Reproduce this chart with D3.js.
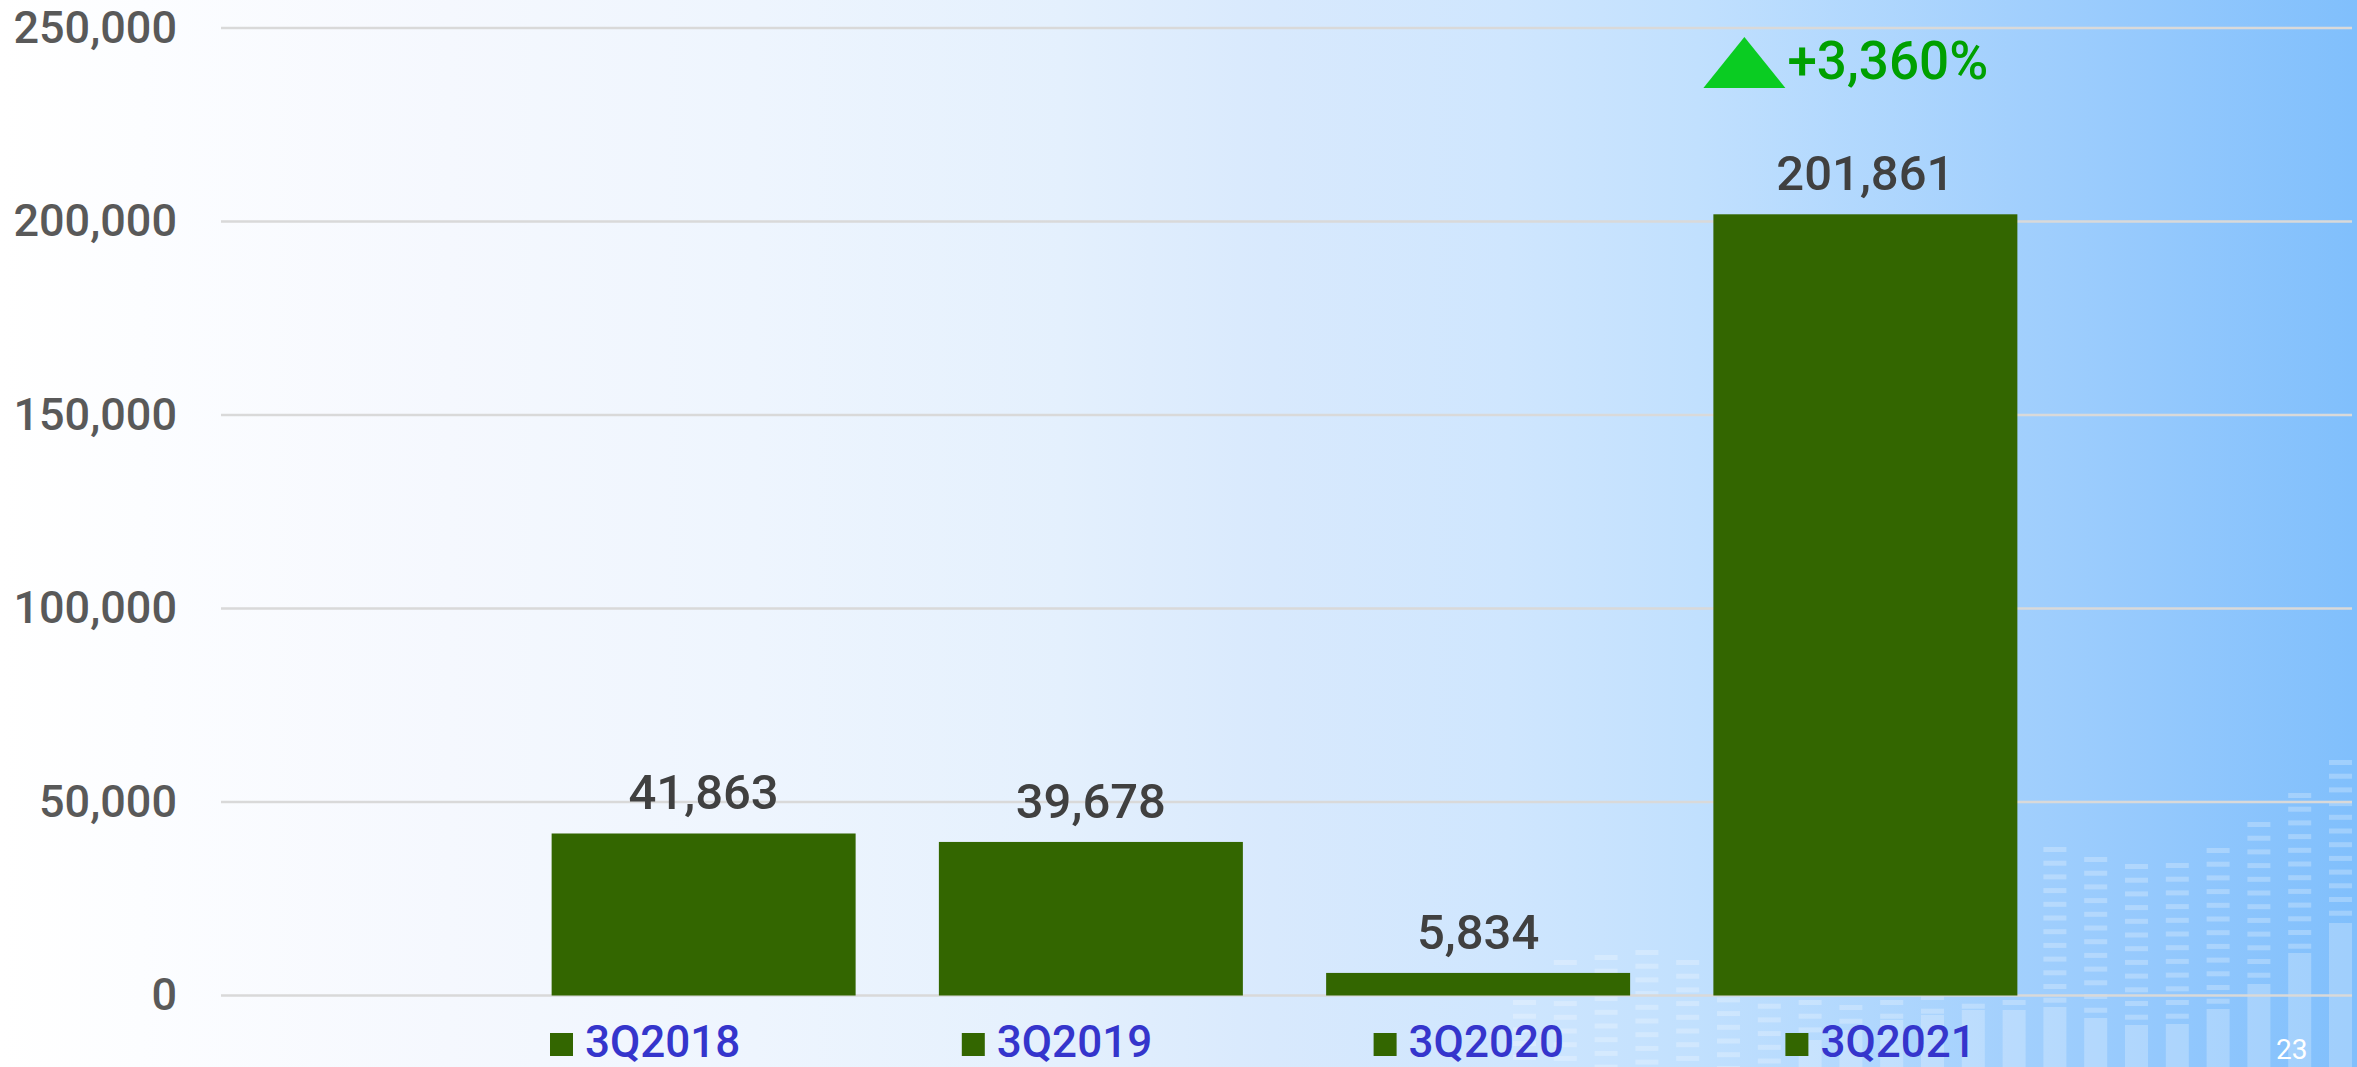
<!DOCTYPE html>
<html>
<head>
<meta charset="utf-8">
<script src="https://cdn.jsdelivr.net/npm/d3@7"></script>
<style>
    html, body { margin: 0; padding: 0; overflow: hidden; }
    svg { display: block; }
</style>
</head>
<body>
<div id="chart"></div>
<script>
// chart data
let quarters = ["3Q2018", "3Q2019", "3Q2020", "3Q2021"];
let counts = [41863, 39678, 5834, 201861];
let yTicks = [0, 50000, 100000, 150000, 200000, 250000];
let growthLabel = "+3,360%";
let pageNumber = "23";

// background equalizer decoration (top of dashes, top of solid part)
let decoTops = [1000, 960, 955, 950, 960, 970, 990, 1000, 1005, 1000, 995, 990, 1000, 847, 857, 864, 863, 848, 822, 793, 760];
let decoSolid = [1067, 1067, 1067, 1067, 1067, 1067, 1067, 1040, 1030, 1020, 1015, 1010, 1010, 1007, 1018, 1025, 1024, 1009, 984, 953, 923];

function drawChart(parentElem) {
    let width = 2357, height = 1067;

    let svg = d3.select(parentElem)
        .append("svg")
        .attr("width", width)
        .attr("height", height);

    // slide background gradient
    let grad = svg.append("defs").append("linearGradient")
        .attr("id", "bg")
        .attr("x1", "0%").attr("x2", "100%")
        .attr("y1", "0%").attr("y2", "0%");
    [[0, "#ffffff"], [0.06, "#fcfdff"], [0.19, "#f5f8fe"], [0.32, "#eef5fe"],
     [0.45, "#e4f0fd"], [0.54, "#d8e9fd"], [0.64, "#cfe6fe"], [0.72, "#c1e0fe"],
     [0.86, "#a1cffd"], [0.92, "#93c8fd"], [1, "#80bffc"]].forEach(function(s) {
        grad.append("stop").attr("offset", s[0]).attr("stop-color", s[1]);
    });
    svg.append("rect")
        .attr("width", width)
        .attr("height", height)
        .attr("fill", "url(#bg)");

    // decoration columns
    let deco = svg.append("g").attr("fill", "#ffffff").attr("opacity", 0.25);
    decoTops.forEach(function(top, i) {
        let x = 1513 + i * 40.8;
        for (let y = top; y < decoSolid[i]; y += 13.7) {
            deco.append("rect").attr("x", x).attr("y", y).attr("width", 23).attr("height", 5);
        }
        deco.append("rect").attr("x", x).attr("y", decoSolid[i]).attr("width", 23).attr("height", height - decoSolid[i]);
    });

    let x = d3.scaleBand()
        .domain(quarters)
        .range([510, 2059])
        .paddingInner(0.215)
        .paddingOuter(0.1075);

    let y = d3.scaleLinear()
        .domain([0, 250000])
        .range([995.5, 28]);

    // gridlines
    svg.append("g")
        .selectAll("line")
        .data(yTicks)
        .enter()
        .append("line")
        .attr("x1", 221)
        .attr("x2", 2352)
        .attr("y1", function(d) { return y(d); })
        .attr("y2", function(d) { return y(d); })
        .attr("stroke", "#d9d9d9")
        .attr("stroke-width", 2.5);

    // y axis labels
    let yAxis = d3.axisLeft(y)
        .tickValues(yTicks)
        .tickFormat(d3.format(","))
        .tickSize(0)
        .tickPadding(0);
    svg.append("g")
        .attr("transform", "translate(177,0)")
        .call(yAxis)
        .call(function(g) { g.select(".domain").remove(); })
        .selectAll("text")
        .attr("font-family", "Roboto, sans-serif")
        .attr("font-weight", 500)
        .attr("font-size", 45)
        .attr("fill", "#595959");

    // bars
    svg.append("g")
        .selectAll("rect")
        .data(counts)
        .enter()
        .append("rect")
        .attr("x", function(d, i) { return x(quarters[i]); })
        .attr("y", function(d) { return y(d); })
        .attr("width", x.bandwidth())
        .attr("height", function(d) { return y(0) - y(d); })
        .attr("fill", "#336600");

    // value labels
    svg.append("g")
        .selectAll("text")
        .data(counts)
        .enter()
        .append("text")
        .attr("x", function(d, i) { return x(quarters[i]) + x.bandwidth() / 2; })
        .attr("y", function(d) { return y(d) - 24; })
        .attr("text-anchor", "middle")
        .attr("font-family", "Roboto, sans-serif")
        .attr("font-weight", 500)
        .attr("font-size", 49)
        .attr("fill", "#404040")
        .text(d3.format(","));

    // growth marker above last bar
    let last = quarters[quarters.length - 1];
    let gx = x(last) + x.bandwidth() / 2;
    svg.append("path")
        .attr("d", "M" + (gx - 121) + ",37 L" + (gx - 80) + ",88 L" + (gx - 162) + ",88 Z")
        .attr("fill", "#0acc22");
    svg.append("text")
        .attr("x", gx - 78)
        .attr("y", 79)
        .attr("font-family", "Roboto, sans-serif")
        .attr("font-weight", 500)
        .attr("font-size", 53)
        .attr("fill", "#00a000")
        .text(growthLabel);

    // legend
    let legend = svg.append("g")
        .selectAll("g")
        .data(quarters)
        .enter()
        .append("g")
        .attr("transform", function(d, i) { return "translate(" + (550 + i * 411.8) + ",1033)"; });
    legend.append("rect")
        .attr("width", 23)
        .attr("height", 23)
        .attr("fill", "#336600");
    legend.append("text")
        .attr("x", 35)
        .attr("y", 24)
        .attr("font-family", "Roboto, sans-serif")
        .attr("font-weight", 500)
        .attr("font-size", 44)
        .attr("fill", "#3535cc")
        .text(function(d) { return d; });

    svg.append("text")
        .attr("x", 2276)
        .attr("y", 1059)
        .attr("font-family", "Roboto, sans-serif")
        .attr("font-size", 28)
        .attr("fill", "#ffffff")
        .text(pageNumber);
}

drawChart("#chart");
</script>
</body>
</html>
